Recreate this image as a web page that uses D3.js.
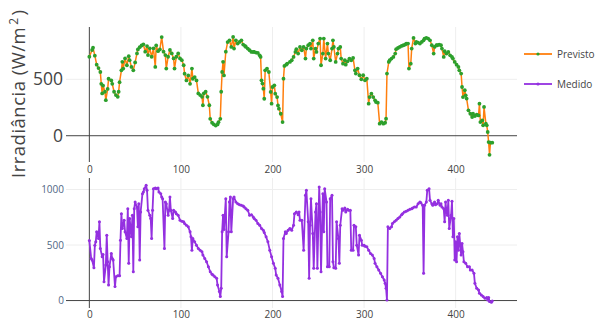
<!DOCTYPE html>
<html>
<head>
<meta charset="utf-8">
<script src="https://cdn.jsdelivr.net/npm/d3@7"></script>
<style>
  body { margin: 0; background: #fff; }
  text { font-family: "Open Sans", "DejaVu Sans", sans-serif; }
</style>
</head>
<body>
<div id="chart"></div>
<script>
// series values: [index, W/m2]
const previsto = [[0,700],[3,760],[4,780],[6,710],[8,630],[10,600],[12,565],[13,460],[14,375],[15,445],[17,390],[18,315],[20,415],[21,505],[24,490],[25,460],[27,390],[29,360],[31,345],[32,390],[33,475],[35,580],[36,655],[37,595],[39,685],[41,625],[43,705],[44,670],[46,610],[48,580],[50,650],[52,730],[53,765],[55,785],[57,800],[59,810],[61,745],[63,795],[64,715],[66,775],[68,700],[70,775],[72,610],[73,800],[75,750],[77,765],[79,875],[81,745],[83,715],[84,595],[86,700],[88,760],[90,730],[92,685],[93,595],[95,700],[97,730],[99,685],[101,670],[103,625],[104,550],[106,490],[108,535],[110,460],[112,595],[113,505],[115,520],[117,490],[119,375],[121,360],[123,345],[124,270],[125,375],[127,390],[129,345],[131,270],[132,150],[134,115],[136,100],[138,90],[140,100],[141,120],[143,150],[144,390],[145,565],[146,655],[147,535],[149,745],[151,830],[153,846],[155,787],[157,876],[158,773],[160,846],[162,817],[164,832],[166,846],[168,808],[170,796],[171,787],[173,773],[175,758],[177,743],[179,743],[180,743],[182,737],[184,734],[186,713],[187,699],[188,491],[189,462],[190,417],[191,328],[192,580],[194,595],[196,565],[198,388],[199,284],[200,432],[202,447],[203,373],[205,343],[206,269],[207,240],[209,195],[211,121],[212,506],[213,619],[215,630],[216,639],[219,654],[221,669],[223,699],[225,743],[226,767],[228,728],[230,787],[232,758],[234,787],[236,684],[237,773],[239,802],[241,817],[242,773],[244,846],[245,684],[247,773],[248,743],[250,817],[252,861],[253,625],[255,728],[256,861],[258,684],[260,817],[261,728],[263,669],[265,773],[266,846],[267,787],[269,654],[271,728],[272,773],[274,787],[275,684],[277,639],[279,669],[280,630],[282,660],[284,684],[286,669],[288,690],[290,580],[291,551],[293,595],[295,536],[297,500],[299,536],[301,491],[303,506],[305,284],[306,343],[308,373],[310,343],[312,314],[313,299],[315,293],[317,107],[319,121],[321,107],[323,115],[324,151],[325,551],[327,654],[328,669],[330,684],[332,699],[334,728],[335,767],[337,778],[339,787],[341,796],[343,802],[345,808],[346,817],[348,817],[349,595],[351,639],[352,773],[354,867],[356,817],[357,832],[359,826],[361,817],[363,832],[365,846],[366,861],[368,867],[370,861],[372,846],[374,802],[376,728],[377,787],[379,802],[380,802],[382,808],[384,802],[385,773],[387,699],[388,749],[390,728],[392,743],[394,713],[396,699],[397,684],[399,654],[401,630],[403,610],[404,580],[406,551],[407,432],[408,343],[410,403],[411,358],[412,329],[414,225],[416,195],[418,166],[419,195],[421,175],[423,186],[425,180],[426,284],[427,121],[429,136],[430,92],[431,255],[433,107],[434,92],[435,33],[436,-56],[437,-169],[438,-62],[440,-62]];

const medido = [[0,540],[2,380],[3,365],[5,296],[6,499],[7,529],[8,619],[10,559],[11,709],[12,469],[14,395],[15,416],[16,170],[18,320],[19,589],[20,350],[21,140],[22,305],[24,425],[25,380],[26,365],[28,126],[29,215],[31,224],[33,224],[34,544],[35,783],[36,649],[38,724],[39,619],[41,559],[42,828],[43,335],[44,739],[46,574],[47,768],[48,260],[49,828],[50,888],[52,843],[53,664],[54,873],[55,365],[56,798],[58,963],[59,978],[60,1008],[62,1038],[63,993],[64,813],[66,768],[67,739],[68,559],[69,813],[70,1008],[72,1014],[73,1008],[75,1014],[76,978],[78,963],[79,933],[80,918],[82,469],[83,888],[84,873],[86,768],[87,813],[88,933],[89,813],[91,739],[92,813],[94,798],[95,783],[97,768],[99,724],[101,715],[103,709],[104,694],[106,679],[108,664],[110,619],[111,574],[112,454],[113,559],[115,529],[117,499],[119,469],[121,454],[123,440],[124,410],[126,380],[128,350],[130,305],[132,260],[134,236],[135,230],[137,215],[139,200],[140,140],[142,81],[143,36],[144,111],[145,619],[146,768],[147,640],[149,918],[150,395],[152,619],[153,888],[154,933],[155,619],[157,918],[158,933],[160,888],[162,873],[164,864],[166,858],[168,852],[169,843],[171,828],[173,813],[175,768],[177,774],[179,753],[180,739],[182,724],[184,694],[186,679],[188,649],[190,634],[191,613],[193,574],[195,529],[197,454],[199,395],[201,335],[203,290],[204,230],[206,200],[208,141],[210,81],[211,36],[212,559],[214,619],[215,604],[217,634],[219,649],[221,634],[223,679],[224,783],[226,798],[228,774],[229,798],[230,724],[232,724],[234,454],[236,948],[237,993],[239,709],[240,200],[241,679],[242,918],[244,604],[245,290],[247,798],[248,873],[249,290],[251,1023],[252,798],[253,260],[255,963],[256,619],[257,1008],[259,888],[260,305],[262,305],[263,918],[265,948],[266,350],[267,296],[269,290],[270,709],[272,559],[273,335],[274,679],[276,828],[277,813],[279,834],[280,798],[282,822],[283,813],[285,813],[286,454],[288,454],[289,679],[291,664],[292,499],[294,410],[295,589],[297,544],[298,499],[300,499],[301,490],[303,484],[305,454],[307,425],[309,410],[311,380],[312,335],[314,305],[316,275],[318,245],[320,215],[322,185],[323,155],[324,111],[325,6],[326,664],[328,649],[330,664],[331,694],[333,709],[335,724],[337,739],[339,753],[341,774],[342,783],[344,798],[346,804],[348,813],[350,822],[352,828],[353,834],[355,843],[357,843],[359,873],[361,888],[362,882],[364,858],[365,245],[366,858],[368,888],[369,993],[371,1008],[372,903],[374,873],[375,858],[377,888],[378,864],[380,873],[381,903],[383,858],[384,873],[385,843],[387,828],[388,709],[389,888],[390,798],[391,768],[392,903],[393,649],[395,768],[396,894],[397,574],[398,739],[399,365],[400,529],[401,350],[402,574],[403,454],[404,604],[406,410],[407,514],[408,440],[409,350],[411,335],[413,305],[415,305],[416,275],[418,275],[420,245],[421,155],[423,111],[425,96],[426,66],[428,51],[430,36],[432,21],[434,27],[435,6],[436,27],[437,-9],[439,-15],[440,-3]];

const xTicks = [0, 100, 200, 300, 400];
const prevTicks = [0, 500];
const medTicks = [0, 500, 1000];
const seriesNames = ['Previsto', 'Medido'];
const yTitle = ['Irradiância (W/m', '2', ')'];  // text, superscript, closing

// layout
const W = 596, H = 322;
const plotL = 66, plotR = 517;
const top1 = 27, bot1 = 162;   // Previsto panel
const top2 = 178, bot2 = 308;  // Medido panel

const scaleX = d3.scaleLinear().domain([-25.5, 467]).range([plotL, plotR]);
const scaleY1 = d3.scaleLinear().domain([-233, 964]).range([bot1, top1]);
const scaleY2 = d3.scaleLinear().domain([-67, 1104]).range([bot2, top2]);

const svg = d3.select('#chart').append('svg')
    .attr('width', W)
    .attr('height', H)
    .style('background', '#fff');

function drawPanel(data, scaleY, yTicks, top, bot, opts) {
  const g = svg.append('g');

  // grid
  g.selectAll('.vgrid').data(xTicks.filter(d => d !== 0)).enter().append('line')
      .attr('x1', d => scaleX(d)).attr('x2', d => scaleX(d))
      .attr('y1', top).attr('y2', bot)
      .attr('stroke', '#eee').attr('stroke-width', 1);
  g.selectAll('.hgrid').data(yTicks.filter(d => d !== 0)).enter().append('line')
      .attr('x1', plotL).attr('x2', plotR)
      .attr('y1', d => scaleY(d)).attr('y2', d => scaleY(d))
      .attr('stroke', '#eee').attr('stroke-width', 1);

  // zero lines
  g.append('line')
      .attr('x1', plotL).attr('x2', plotR)
      .attr('y1', scaleY(0)).attr('y2', scaleY(0))
      .attr('stroke', '#444').attr('stroke-width', 1);
  g.append('line')
      .attr('x1', scaleX(0)).attr('x2', scaleX(0))
      .attr('y1', top).attr('y2', bot)
      .attr('stroke', '#444').attr('stroke-width', 1);

  // axes (labels only)
  const xAxis = g.append('g')
      .attr('transform', 'translate(0,' + bot + ')')
      .call(d3.axisBottom(scaleX).tickValues(xTicks).tickFormat(d3.format('d')).tickSize(0).tickPadding(opts.xPad));
  xAxis.select('.domain').remove();
  xAxis.selectAll('text').attr('font-size', 10).attr('fill', '#444');

  const yAxis = g.append('g')
      .attr('transform', 'translate(' + plotL + ',0)')
      .call(d3.axisLeft(scaleY).tickValues(yTicks).tickFormat(d3.format('d')).tickSize(0).tickPadding(opts.yPad));
  yAxis.select('.domain').remove();
  yAxis.selectAll('text').attr('font-size', opts.yFont).attr('fill', opts.yColor);

  // line + markers
  g.append('path')
      .datum(data)
      .attr('fill', 'none')
      .attr('stroke', opts.lineColor)
      .attr('stroke-width', opts.lineWidth)
      .attr('stroke-linejoin', 'round')
      .attr('d', d3.line().x(d => scaleX(d[0])).y(d => scaleY(d[1])));
  g.selectAll('.pt').data(data).enter().append('circle')
      .attr('cx', d => scaleX(d[0]))
      .attr('cy', d => scaleY(d[1]))
      .attr('r', opts.r)
      .attr('fill', opts.markerColor);
}

drawPanel(previsto, scaleY1, prevTicks, top1, bot1,
  { xPad: 4, yPad: 3, yFont: 17.5, yColor: '#444', lineColor: '#ff7f0e', lineWidth: 1.5, markerColor: '#2ca02c', r: 1.9 });
drawPanel(medido, scaleY2, medTicks, top2, bot2,
  { xPad: 3, yPad: 2, yFont: 10, yColor: '#506784', lineColor: '#9430e0', lineWidth: 1.8, markerColor: '#9430e0', r: 1.5 });

// y title, anchored at its bottom end
const title = svg.append('text')
    .attr('transform', 'translate(25,178) rotate(-90)')
    .attr('text-anchor', 'start')
    .attr('font-size', 18.5)
    .attr('letter-spacing', 0.5)
    .attr('fill', '#444');
title.append('tspan').text(yTitle[0]);
title.append('tspan').attr('dx', 2).attr('dy', -7).attr('font-size', 12).text(yTitle[1]);
title.append('tspan').attr('dx', 2).attr('dy', 7).text(yTitle[2]);

// legend
const legendColors = [['#ff7f0e', '#2ca02c'], ['#9430e0', '#9430e0']];
const legend = svg.selectAll('.legend').data(seriesNames).enter().append('g')
    .attr('transform', (d, i) => 'translate(524,' + (54 + i * 30) + ')');
legend.append('line')
    .attr('x1', 0).attr('x2', 28).attr('y1', 0).attr('y2', 0)
    .attr('stroke', (d, i) => legendColors[i][0]).attr('stroke-width', 1.8);
legend.append('circle')
    .attr('cx', 14).attr('cy', 0).attr('r', 1.6)
    .attr('fill', (d, i) => legendColors[i][1]);
legend.append('text')
    .attr('x', 33).attr('dy', '0.35em')
    .attr('font-size', 10)
    .attr('fill', '#444')
    .text(d => d);
</script>
</body>
</html>
